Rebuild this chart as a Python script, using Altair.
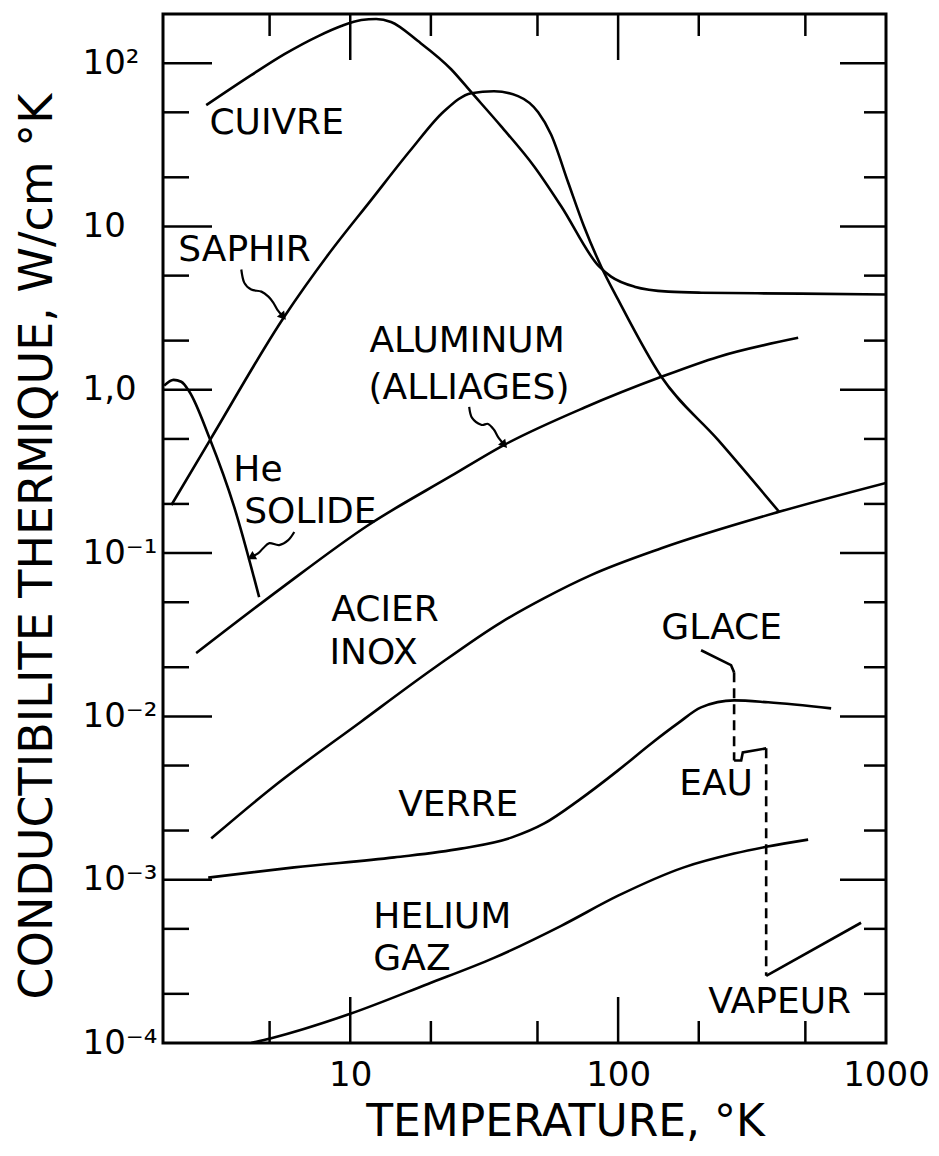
import altair as alt
import pandas as pd

# ---------------- data ----------------
cuivre_T = [2.90, 4.27, 5.68, 7.60, 9.26, 11.0, 12.5, 14.2, 17.9, 23.8, 28.3, 36.6, 48.6, 61.3, 84.9, 94.1, 115, 154, 204, 482, 1000]
cuivre_k = [55.3, 84.4, 113.5, 146.5, 168.8, 183.6, 186.3, 178.6, 136.5, 91.8, 66.4, 41.0, 23.3, 13.3, 5.69, 4.93, 4.28, 3.99, 3.93, 3.88, 3.83]

saphir_T = [2.15, 3.03, 5.68, 8.28, 12.0, 16.9, 22.4, 28.3, 34.4, 42.3, 50.3, 56.2, 65.1, 74.6, 86.4, 100, 145, 236, 399]
saphir_k = [0.197, 0.508, 2.81, 6.73, 14.6, 29.7, 50.8, 65.5, 67.3, 62.8, 50.0, 36.6, 18.6, 10.0, 5.69, 3.56, 1.20, 0.493, 0.179]

he_sol_T = [2.02, 2.19, 2.34, 2.51, 2.98, 3.69, 4.57]
he_sol_k = [1.06, 1.15, 1.12, 0.972, 0.508, 0.191, 0.0537]

alu_T = [2.66, 5.53, 11.7, 23.8, 37.6, 74.6, 145, 236, 470]
alu_k = [0.0244, 0.0610, 0.1486, 0.2966, 0.460, 0.776, 1.20, 1.59, 2.08]

acier_T = [3.03, 5.07, 11.0, 20.5, 36.6, 53.0, 79.2, 145, 399, 1000]
acier_k = [0.00179, 0.00362, 0.00931, 0.0197, 0.0377, 0.0530, 0.0733, 0.107, 0.179, 0.269]

verre_T = [2.95, 6.18, 14.6, 25.9, 39.9, 53.0, 71.0, 100, 133, 167, 204, 271, 363, 624]
verre_k = [0.00103, 0.00119, 0.00137, 0.00155, 0.00181, 0.00221, 0.00305, 0.00467, 0.00683, 0.00906, 0.01135, 0.01253, 0.0122, 0.0112]

he_gaz_T = [4.27, 5.07, 10, 19.5, 34.4, 61.3, 100, 176, 271, 357, 512]
he_gaz_k = [1.0e-4, 1.07e-4, 1.51e-4, 2.30e-4, 3.32e-4, 5.22e-4, 7.98e-4, 1.19e-3, 1.445e-3, 1.59e-3, 1.76e-3]

eau_T = [271, 288, 292, 357]
eau_k = [0.00537, 0.00537, 0.00601, 0.00637]

vapeur_T = [357, 807]
vapeur_k = [0.000258, 0.000545]

# leader lines (annotation arrows)
glace_lead_T = [204, 264, 271]
glace_lead_k = [0.0254, 0.0206, 0.0186]
saphir_lead_T = [3.92, 4.02, 4.27, 4.66, 4.95, 5.16, 5.34, 5.62]
saphir_lead_k = [5.45, 4.53, 4.11, 3.99, 3.72, 3.42, 3.10, 2.80]
alu_lead_T = [27.8, 28.5, 30.8, 32.7, 34.4, 35.6, 37.6]
alu_lead_k = [0.787, 0.673, 0.610, 0.618, 0.569, 0.515, 0.460]
he_lead_T = [6.18, 5.87, 5.43, 4.99, 4.73, 4.54, 4.27]
he_lead_k = [0.1345, 0.120, 0.112, 0.115, 0.107, 0.100, 0.0945]

arrow_T = [5.62, 37.6, 4.27]
arrow_k = [2.80, 0.460, 0.0945]
arrow_angle = [319, 319, 60]

# dashed phase transitions
trans1_T = [271, 271]
trans1_k = [0.0186, 0.00537]
trans2_T = [357, 357]
trans2_k = [0.00637, 0.000258]

# text labels
label_text = ["CUIVRE", "SAPHIR", "ALUMINUM", "(ALLIAGES)", "He", "SOLIDE", "ACIER", "INOX",
              "VERRE", "HELIUM", "GAZ", "GLACE", "EAU", "VAPEUR"]
label_T = [2.98, 2.28, 11.8, 11.7, 3.66, 4.02, 8.50, 8.36, 15.1, 12.2, 12.2, 145, 169, 217]
label_k = [42.8, 7.22, 2.0, 1.03, 0.323, 0.1786, 0.0450, 0.0245, 0.00288, 5.90e-4, 3.27e-4, 0.0347, 0.00388, 1.79e-4]

# axes
x_label_vals = [10, 100, 1000]
y_label_text = ["10⁻⁴", "10⁻³", "10⁻²", "10⁻¹", "1,0", "10", "10²"]
y_label_vals = [1e-4, 1e-3, 1e-2, 1e-1, 1, 10, 100]
x_major = [10, 100]
x_minor = [5, 20, 50, 200, 500]
y_major = [1e-3, 1e-2, 0.1, 1, 10, 100]
y_minor = [2e-4, 5e-4, 2e-3, 5e-3, 0.02, 0.05, 0.2, 0.5, 2, 5, 20, 50]

# ---------------- chart ----------------
W, H = 723, 1029
FONT = "DejaVu Sans"


def frame(name, T, k):
    return pd.DataFrame({"T": T, "k": k, "serie": name, "ordre": list(range(len(T)))})


curves = pd.concat([
    frame("cuivre", cuivre_T, cuivre_k),
    frame("saphir", saphir_T, saphir_k),
    frame("he_solide", he_sol_T, he_sol_k),
    frame("alu", alu_T, alu_k),
    frame("acier", acier_T, acier_k),
    frame("verre", verre_T, verre_k),
    frame("he_gaz", he_gaz_T, he_gaz_k),
])
straight = pd.concat([
    frame("eau", eau_T, eau_k),
    frame("vapeur", vapeur_T, vapeur_k),
    frame("glace_lead", glace_lead_T, glace_lead_k),
])
leaders = pd.concat([
    frame("saphir_lead", saphir_lead_T, saphir_lead_k),
    frame("alu_lead", alu_lead_T, alu_lead_k),
    frame("he_lead", he_lead_T, he_lead_k),
])
dashed = pd.concat([
    frame("t1", trans1_T, trans1_k),
    frame("t2", trans2_T, trans2_k),
])
arrows = pd.DataFrame({"T": arrow_T, "k": arrow_k, "angle": arrow_angle})
labels = pd.DataFrame({"T": label_T, "k": label_k, "txt": label_text})

y_expr = "[" + ",".join("'" + t + "'" for t in y_label_text) + "][round(log(datum.value)/LN10)+4]"

X = alt.X(
    "T:Q",
    scale=alt.Scale(type="log", domain=[2, 1000], nice=False),
    axis=alt.Axis(
        values=x_label_vals, format="d", title="TEMPERATURE, °K",
        ticks=False, tickSize=0, domain=False, grid=False,
        labelFont=FONT, labelFontSize=34, labelColor="black",
        labelBaseline="middle", labelPadding=32, labelFlush=False,
        labelOverlap=False, labelBound=False,
        titleFont=FONT, titleFontSize=44, titleFontWeight="normal", titleColor="black",
        titleX=402, titleY=92, titleBaseline="alphabetic", titleAlign="center",
    ),
)
Y = alt.Y(
    "k:Q",
    scale=alt.Scale(type="log", domain=[1e-4, 200], nice=False),
    axis=alt.Axis(
        values=y_label_vals, labelExpr=y_expr,
        title="CONDUCTIBILITE THERMIQUE, W/cm °K",
        ticks=False, tickSize=0, domain=False, grid=False,
        labelFont=FONT, labelFontSize=34, labelColor="black",
        labelAlign="left", labelBaseline="middle", labelPadding=81,
        labelOverlap=False, labelBound=False, labelFlush=False,
        titleFont=FONT, titleFontSize=46, titleFontWeight="normal", titleColor="black",
        titleAngle=270, titleX=-126, titleY=532, titleBaseline="middle", titleAlign="center",
    ),
)

LW = 2.6

curve_layer = alt.Chart(curves).mark_line(
    color="black", strokeWidth=LW, interpolate="monotone", clip=True
).encode(x=X, y=Y, detail="serie:N", order="ordre:Q")

straight_layer = alt.Chart(straight).mark_line(
    color="black", strokeWidth=LW, interpolate="linear"
).encode(x=X, y=Y, detail="serie:N", order="ordre:Q")

leader_layer = alt.Chart(leaders).mark_line(
    color="black", strokeWidth=2.2, interpolate="cardinal"
).encode(x=X, y=Y, detail="serie:N", order="ordre:Q")

dashed_layer = alt.Chart(dashed).mark_line(
    color="black", strokeWidth=LW, strokeDash=[10, 6]
).encode(x=X, y=Y, detail="serie:N", order="ordre:Q")

arrow_layer = alt.Chart(arrows).mark_point(
    shape="triangle-down", filled=True, size=90, color="black", opacity=1
).encode(x=X, y=Y, angle=alt.Angle("angle:Q", scale=None))

label_layer = alt.Chart(labels).mark_text(
    align="left", baseline="middle", font=FONT, fontSize=36, color="black"
).encode(x=X, y=Y, text="txt:N")

TW = 2.5


def xticks(vals, y0, y1):
    return alt.Chart(pd.DataFrame({"T": vals})).mark_rule(color="black", strokeWidth=TW).encode(
        x=X, y=alt.value(y0), y2=alt.value(y1))


def yticks(vals, x0, x1):
    return alt.Chart(pd.DataFrame({"k": vals})).mark_rule(color="black", strokeWidth=TW).encode(
        y=Y, x=alt.value(x0), x2=alt.value(x1))


tick_layers = [
    xticks(x_major, 0, 46), xticks(x_minor, 0, 22),
    xticks(x_major, H, H - 46), xticks(x_minor, H, H - 22),
    yticks(y_major, 0, 49), yticks(y_minor, 0, 26),
    yticks(y_major, W, W - 46), yticks(y_minor, W, W - 22),
]

chart = alt.layer(
    curve_layer, straight_layer, leader_layer, dashed_layer, arrow_layer, label_layer, *tick_layers
).properties(
    width=W, height=H,
    autosize=alt.AutoSizeParams(type="none"),
    padding={"left": 155, "top": 6, "right": 45, "bottom": 102},
    background="white",
).configure_view(stroke="black", strokeWidth=3)

chart.save("out.html", embed_options={"renderer": "svg", "actions": False})
